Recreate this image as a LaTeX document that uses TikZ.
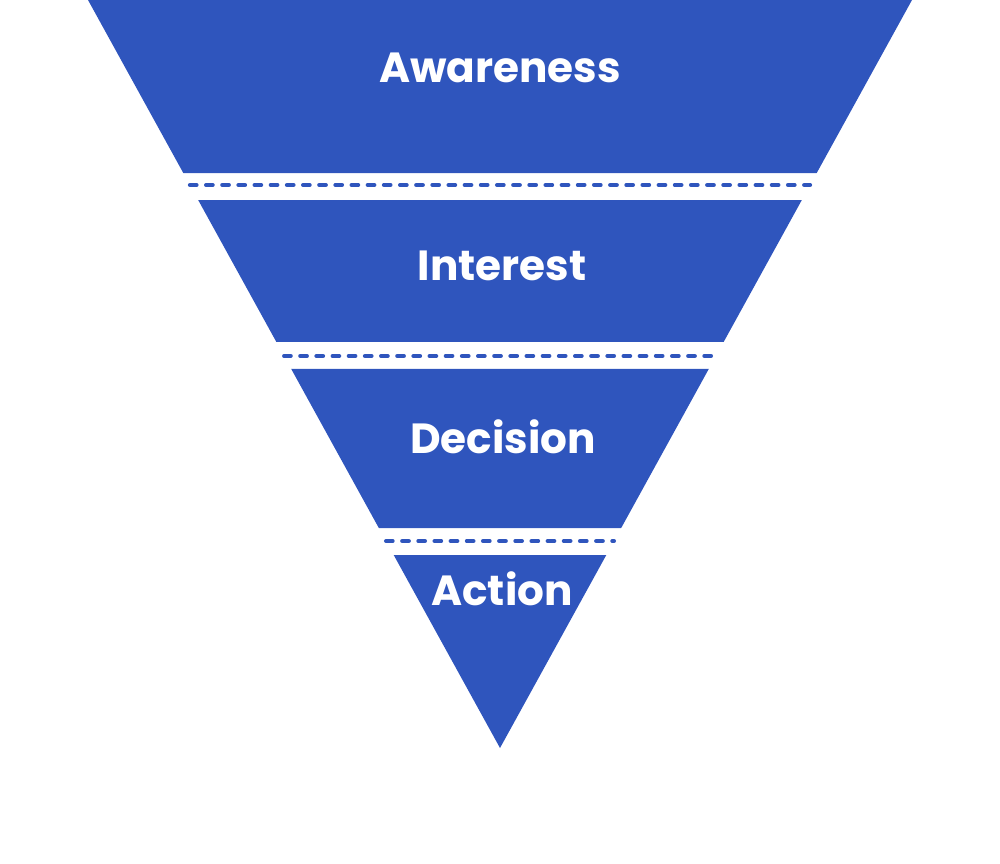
\documentclass[tikz,border=0pt]{standalone}
\usepackage{fontspec}
\setmainfont{Poppins}
\usetikzlibrary{calc}

\definecolor{funnelblue}{RGB}{47,85,189}

\begin{document}
\begin{tikzpicture}[
    x=0.02cm, y=-0.02cm,
    band/.style={fill=funnelblue, draw=none},
    divider/.style={draw=funnelblue, line width=2.3pt, line cap=round,
      dash pattern=on 3.8pt off 5.4pt},
    stage/.style={text=white, font=\fontsize{24}{29}\selectfont\bfseries},
]
  \useasboundingbox (0,0) rectangle (1000,864);
  % funnel outline
  \coordinate (tl) at (88,0);
  \coordinate (tr) at (912,0);
  \coordinate (apex) at (500,748);

  % bands, cut between the three gaps
  \fill[band] (tl) -- (tr) -- ($(tr)!0.2313!(apex)$) -- ($(tl)!0.2313!(apex)$) -- cycle;
  \fill[band] ($(tl)!0.2674!(apex)$) -- ($(tr)!0.2674!(apex)$)
    -- ($(tr)!0.4572!(apex)$) -- ($(tl)!0.4572!(apex)$) -- cycle;
  \fill[band] ($(tl)!0.4933!(apex)$) -- ($(tr)!0.4933!(apex)$)
    -- ($(tr)!0.7059!(apex)$) -- ($(tl)!0.7059!(apex)$) -- cycle;
  \fill[band] ($(tl)!0.7420!(apex)$) -- ($(tr)!0.7420!(apex)$) -- (apex) -- cycle;

  % dashed dividers
  \coordinate (d1l) at ($(tl)!0.2473!(apex)$);
  \coordinate (d1r) at ($(tr)!0.2473!(apex)$);
  \coordinate (d2l) at ($(tl)!0.4759!(apex)$);
  \coordinate (d2r) at ($(tr)!0.4759!(apex)$);
  \coordinate (d3l) at ($(tl)!0.7233!(apex)$);
  \coordinate (d3r) at ($(tr)!0.7233!(apex)$);
  \draw[divider] (d1l) -- (d1r);
  \draw[divider] (d2l) -- (d2r);
  \draw[divider] (d3l) -- (d3r);

  % labels
  \node[stage] (awareness) at (500,68) {Awareness};
  \node[stage] (interest) at (502,266) {Interest};
  \node[stage] (decision) at (503,437) {Decision};
  \node[stage] (action) at (502,589) {Action};
\end{tikzpicture}
\end{document}
